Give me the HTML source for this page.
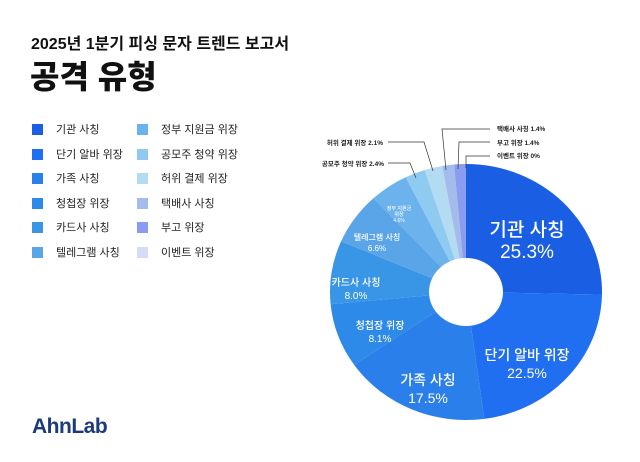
<!DOCTYPE html>
<html><head><meta charset="utf-8"><style>
body{margin:0;width:640px;height:462px;background:#fff;overflow:hidden;font-family:"Liberation Sans","Noto Sans CJK KR",sans-serif;position:relative}
.t{position:absolute;white-space:nowrap;color:#111}
.sw{position:absolute;width:11px;height:11px}
.lg{position:absolute;font-size:11px;color:#222;white-space:nowrap}
</style></head><body>
<div class="t" style="left:31px;top:30px;font-size:16px;font-weight:600">2025년 1분기 피싱 문자 트렌드 보고서</div>
<div class="t" style="left:30px;top:52px;font-size:32px;font-weight:900">공격 유형</div>
<div id="leg"></div>
<div class="t" style="left:32px;top:415px;font-size:21px;font-weight:700;color:#1d3a7a;letter-spacing:-0.5px">AhnLab</div>
<svg id="s" width="640" height="462" style="position:absolute;left:0;top:0"></svg>
<script>
const d=[["기관 사칭",25.3,"#1a5ee3"],["단기 알바 위장",22.5,"#1f6ff0"],["가족 사칭",17.5,"#2a7fea"],["청첩장 위장",8.1,"#2d8ae8"],["카드사 사칭",8.0,"#3996e6"],["텔레그램 사칭",6.6,"#5aa5e8"],["정부 지원금 위장",4.6,"#6cb2ec"],["공모주 청약 위장",2.4,"#8fcbf0"],["허위 결제 위장",2.1,"#b3dcf2"],["택배사 사칭",1.4,"#a3bcec"],["부고 위장",1.4,"#8a9cf0"],["이벤트 위장",0,"#d5dcf5"]];
let h="";
d.forEach((e,i)=>{const c=i<6?0:1,r=i%6;const x=c?137:32,y=124+r*24.5;
h+=`<div class="sw" style="left:${x}px;top:${y}px;background:${e[2]}"></div><div class="lg" style="left:${x+24}px;top:${y-3}px">${e[0]}</div>`;});
document.getElementById("leg").innerHTML=h;
const cx=466,cy=292,rx=136,ry=128;let a=0,s="";
const P=(t,k)=>[cx+rx*k*Math.sin(t),cy-ry*k*Math.cos(t)];
d.forEach(e=>{if(!e[1])return;const a1=a+e[1]/99.9*2*Math.PI;const p0=P(a,1),p1=P(a1,1);
s+=`<path d="M${cx},${cy}L${p0}A${rx},${ry} 0 ${a1-a>Math.PI?1:0} 1 ${p1}Z" fill="${e[2]}"/>`;a=a1;});
s+=`<ellipse cx="${cx}" cy="${cy}" rx="37" ry="34" fill="#fff"/>`;
const T=(x,y,t,f,w)=>`<text x="${x}" y="${y}" font-size="${f}" fill="${w||'#fff'}" text-anchor="middle" font-weight="500">${t}</text>`;
s+=T(527,236,"기관 사칭",19)+T(527,258,"25.3%",19)+T(527,360,"단기 알바 위장",14)+T(527,378,"22.5%",14)+T(428,385,"가족 사칭",14)+T(428,403,"17.5%",14)+T(380,329,"청첩장 위장",10)+T(380,342,"8.1%",10)+T(356,286,"카드사 사칭",10)+T(356,299,"8.0%",10)+T(377,240,"텔레그램 사칭",8)+T(377,251,"6.6%",8)+T(399,210,"정부 지원금",5)+T(399,216,"위장",5)+T(399,222,"4.6%",5);
const L=(x,y,t,anc)=>`<text x="${x}" y="${y}" font-size="6.5" fill="#222" text-anchor="${anc}" font-weight="700">${t}</text>`;
s+=L(497,131,"택배사 사칭 1.4%","start")+L(497,145,"부고 위장 1.4%","start")+L(497,158,"이벤트 위장 0%","start")+L(383,145,"허위 결제 위장  2.1%","end")+L(384,166,"공모주 청약 위장  2.4%","end");
s+=`<g stroke="#333" stroke-width="0.7" fill="none"><polyline points="490,129 442,129 446,170"/><polyline points="490,142 459,142 458,169"/><polyline points="490,156 466,156 466,168"/><polyline points="388,142 424,142 433,171"/><polyline points="388,163 410,163 416,178"/></g>`;
document.getElementById("s").innerHTML=s;
</script>
</body></html>
